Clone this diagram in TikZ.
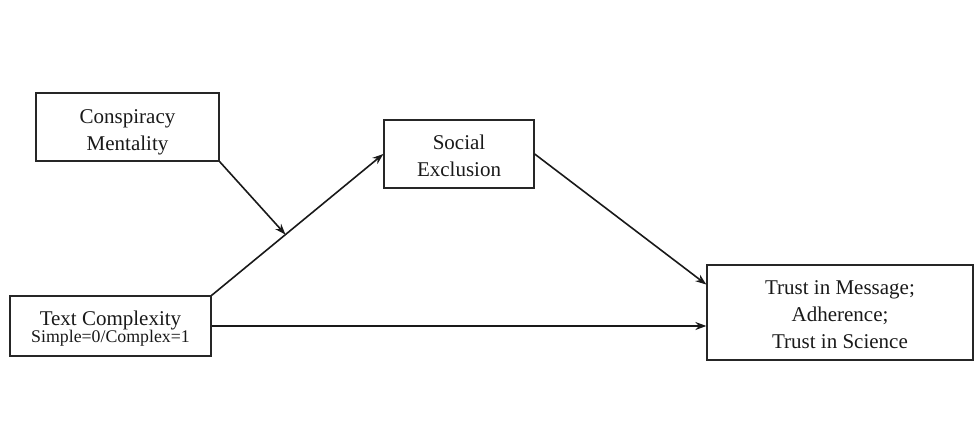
\documentclass[tikz,border=0pt]{standalone}
\usepackage{fontspec}
\setmainfont{Liberation Serif}
\usetikzlibrary{arrows.meta,calc}
\newcommand{\boxlines}[2]{\raisebox{-#1}[\height][\depth]{\begin{tabular}{@{}c@{}}#2\end{tabular}}}
\begin{document}
\begin{tikzpicture}[x=1pt,y=-1pt,
  box/.style={draw=black!85,line width=1.3pt,inner sep=0pt,
    font=\fontsize{21}{27}\selectfont,text=black!90},
  conn/.style={line width=1.6pt,black!90,-{Stealth[length=11pt,width=8pt]}}]
\useasboundingbox (0,0) rectangle (979,441);
\node[box,minimum width=183pt,minimum height=68pt] (cm) at (127.5,127) {\boxlines{4.5pt}{Conspiracy\\Mentality}};
\node[box,minimum width=150pt,minimum height=68pt] (se) at (459,154) {\boxlines{4pt}{Social\\Exclusion}};
\node[box,minimum width=201pt,minimum height=60pt] (tc) at (110.5,326)
  {\boxlines{3pt}{Text Complexity\\[-10pt]\fontsize{17.8}{20}\selectfont Simple=0/Complex=1}};
\node[box,minimum width=266pt,minimum height=95pt] (tr) at (840,312.5) {\boxlines{4pt}{Trust in Message;\\Adherence;\\Trust in Science}};
\coordinate (m) at ($(tc.north east)!0.43!(se.west)$);
\coordinate (tin) at ($(tr.north west)!0.21!(tr.south west)$);
\draw[conn] (tc.north east) -- (se.west);
\draw[conn] (cm.south east) -- (m);
\draw[conn] (se.east) -- (tin);
\draw[conn] (tc.east) -- (tc.east -| tr.west);
\end{tikzpicture}
\end{document}
